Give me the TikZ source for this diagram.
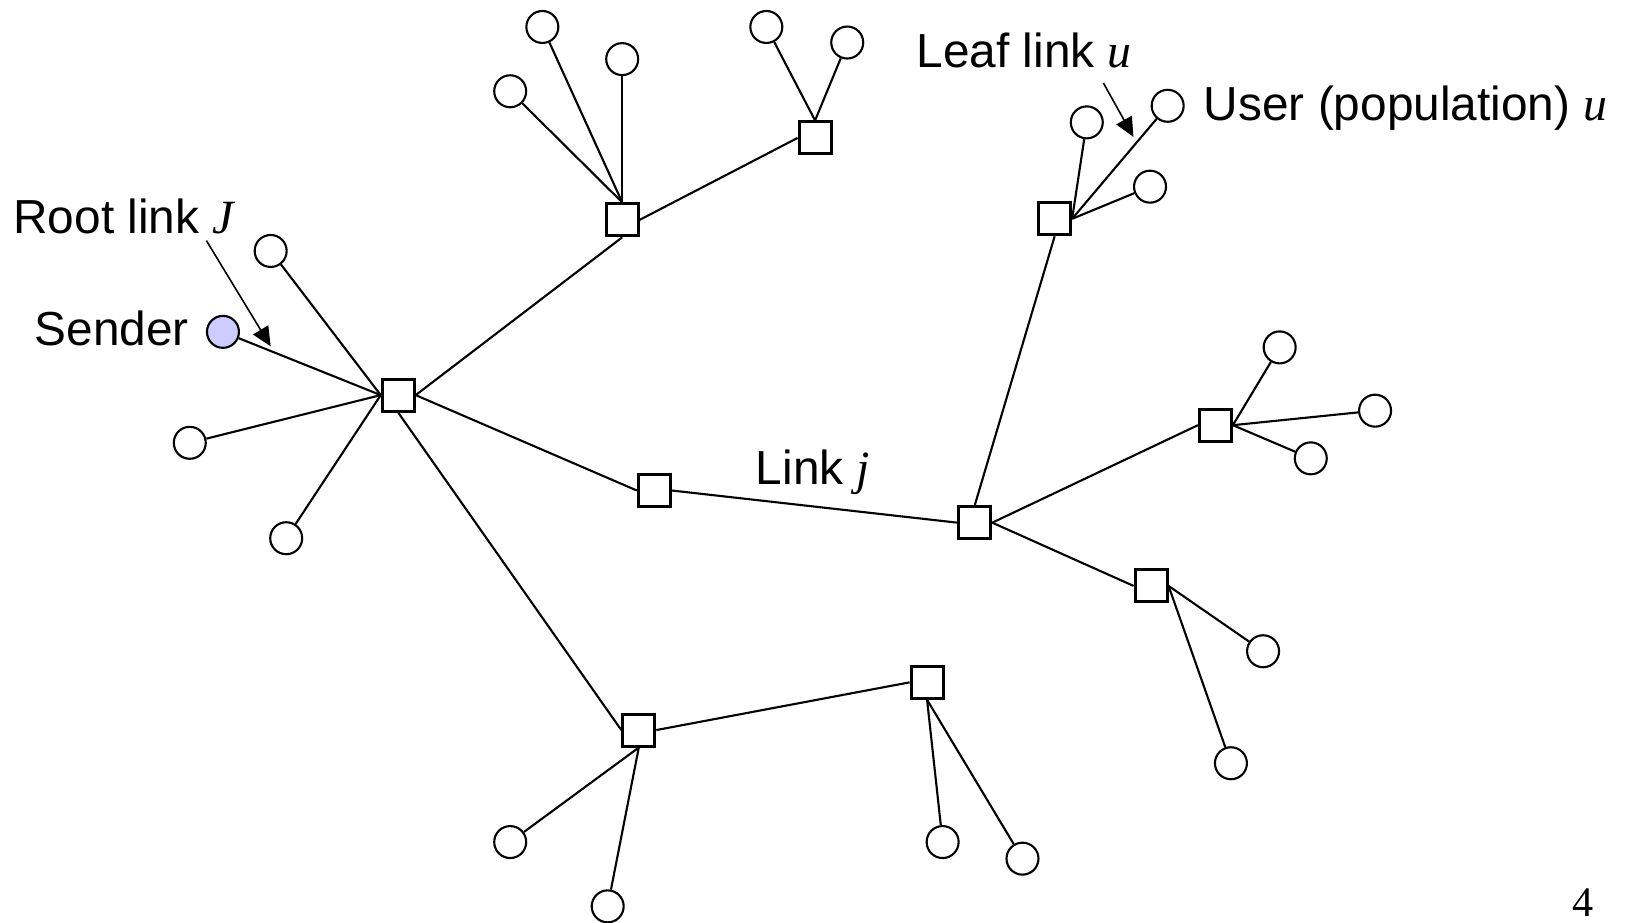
\documentclass[tikz,border=0pt]{standalone}
\usepackage{fontspec}
\setmainfont{Liberation Sans}
\newfontfamily\tmsfont{Liberation Serif}
\usetikzlibrary{arrows.meta}
\definecolor{mylilac}{RGB}{204,204,255}

\newcommand{\mvar}[1]{{\tmsfont\itshape #1}}

\tikzset{
  router/.style={draw, rectangle, minimum size=0.32cm, inner sep=0pt, fill=white, line width=0.85pt},
  user/.style={draw, circle, minimum size=0.32cm, inner sep=0pt, fill=white},
  lbl/.style={font=\fontsize{13.6}{16}\selectfont, inner sep=0pt},
  pointer/.style={-{Triangle[length=5.5pt,width=5pt]}, line width=0.45pt}
}

\begin{document}
\begin{tikzpicture}[x=0.01037cm, y=-0.01037cm, line width=0.6pt]
        \useasboundingbox (0,0) rectangle (1568,890);

        % -- routers --
        \node[router] (hub)  at (384,381) {};
        \node[router] (top)  at (600,212) {};
        \node[router] (topr) at (786,133) {};
        \node[router] (mid)  at (631,473) {};
        \node[router] (ctr)  at (940,504) {};
        \node[router] (up)   at (1017,211) {};
        \node[router] (rgt)  at (1172,410) {};
        \node[router] (low)  at (1110,565) {};
        \node[router] (bot)  at (616,704) {};
        \node[router] (botr) at (894,658) {};

        % -- users; the sender is shaded --
        \node[user, fill=mylilac] (snd) at (215,320) {};
        \foreach \n/\x/\y in {h1/261/242, h2/183/427, h3/276/519,
                              t1/523/26, t2/600/57, t3/492/88,
                              r1/739/26, r2/817/41,
                              u1/1048/118, u2/1126/102, u3/1109/180,
                              g1/1234/335, g2/1326/396, g3/1264/442,
                              l1/1218/628, l2/1187/736,
                              b1/492/812, b2/586/874,
                              k1/909/812, k2/986/828}
            \node[user] (\n) at (\x,\y) {};

        % -- links between routers (side to side) --
        \draw (hub.east) -- (top.south);
        \draw (hub.east) -- (mid.west);
        \draw (hub.south) -- (bot.west);
        \draw (top.east) -- (topr.west);
        \draw (mid.east) -- (ctr.west);
        \draw (ctr.north) -- (up.south);
        \draw (ctr.east) -- (rgt.west);
        \draw (ctr.east) -- (low.west);
        \draw (bot.east) -- (botr.west);

        % -- leaf links: all leave from one side of the router --
        \foreach \a/\s/\b in {hub/west/snd, hub/west/h1, hub/west/h2, hub/west/h3,
                              top/north/t1, top/north/t2, top/north/t3,
                              topr/north/r1, topr/north/r2,
                              up/east/u1, up/east/u2, up/east/u3,
                              rgt/east/g1, rgt/east/g2, rgt/east/g3,
                              low/east/l1, low/east/l2,
                              bot/south/b1, bot/south/b2,
                              botr/south/k1, botr/south/k2}
            \draw (\a.\s) -- (\b);

        % -- labels --
        \node[lbl, anchor=base west] (rootlbl) at (12,225) {Root link \mvar{J}};
        \node[lbl, anchor=base east] (sndlbl) at (183,333) {Sender};
        \node[lbl, anchor=base west] (leaflbl) at (883,65) {Leaf link \mvar{u}};
        \node[lbl, anchor=base west] (userlbl) at (1160,116) {User (population) \mvar{u}};
        \node[lbl, anchor=base west] (linklbl) at (728,467) {Link \mvar{j}};
        \node[font=\tmsfont\fontsize{12}{14}\selectfont, inner sep=0pt, anchor=base] (pagenum) at (1527,884) {4};

        % -- pointer arrows --
        \coordinate (rootfrom) at (199,232);
        \coordinate (rootto)   at (261,334);
        \draw[pointer] (rootfrom) -- (rootto);
        \coordinate (leaffrom) at (1064,80);
        \coordinate (leafto)   at (1093,132);
        \draw[pointer] (leaffrom) -- (leafto);

    \end{tikzpicture}
\end{document}
